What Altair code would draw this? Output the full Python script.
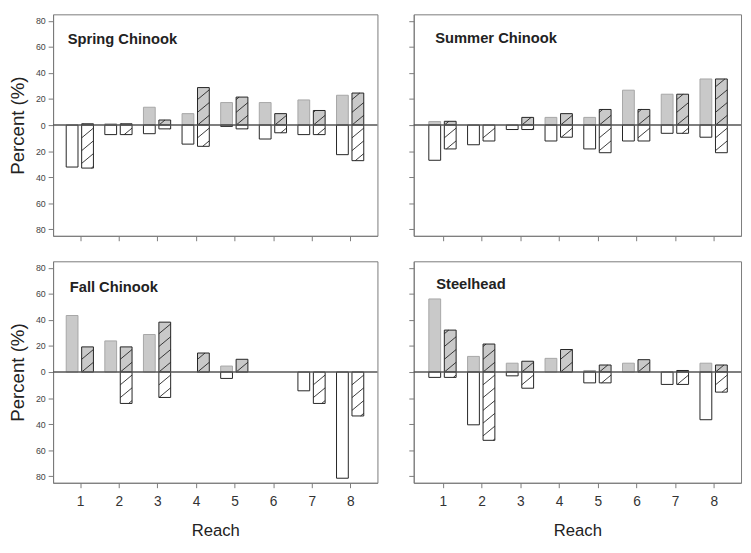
import math
import altair as alt
import pandas as pd

reaches = [1, 2, 3, 4, 5, 6, 7, 8]
panel_names = ["Spring Chinook", "Summer Chinook", "Fall Chinook", "Steelhead"]

# plain bars (left of each pair): positive (gray) and negative (white) parts
spring_pos_l = [0, 1, 13.7, 8.8, 17.3, 17.3, 19.3, 22.9]
spring_neg_l = [32.2, 7.3, 6.6, 14.6, 1, 10.7, 7.3, 22.7]
# hatched bars (right of each pair)
spring_pos_r = [1, 1, 3.9, 28.8, 21.5, 8.8, 11.2, 24.6]
spring_neg_r = [33, 7.3, 2.9, 16.3, 2.9, 5.9, 7.3, 27.3]

summer_pos_l = [2.7, 0, 0, 5.9, 5.9, 26.8, 23.7, 35.4]
summer_neg_l = [27, 15.1, 3.4, 12.2, 18.3, 12.2, 6.3, 9.3]
summer_pos_r = [2.9, 0, 5.9, 8.8, 12, 12, 23.7, 35.4]
summer_neg_r = [18.3, 12.2, 3.4, 9.3, 21.2, 12.2, 6.3, 21.2]

fall_pos_l = [43.4, 23.9, 28.8, 0, 4.6, 0, 0, 0]
fall_neg_l = [0, 0, 0, 0, 4.9, 0, 14.4, 81.5]
fall_pos_r = [19.3, 19.3, 38.3, 14.6, 9.8, 0, 0, 0]
fall_neg_r = [0, 24.1, 19.5, 0, 0, 0, 24.1, 33.7]

steel_pos_l = [56.1, 12, 6.8, 10.5, 1.2, 6.8, 0, 6.8]
steel_neg_l = [4.1, 40.5, 2.9, 0, 8.3, 0, 9.5, 36.6]
steel_pos_r = [32.2, 21.5, 8.3, 17.3, 5.4, 9.5, 1.2, 5.4]
steel_neg_r = [4.1, 52.4, 12.4, 0, 8.3, 0, 9.5, 15.4]

y_ticks = [-80, -60, -40, -20, 0, 20, 40, 60, 80]

OFF_L = (-0.36, -0.055)
OFF_R = (0.04, 0.345)
HATCH_SPACING = 9.8
HATCH_RISE = 7.5

FONT = "Liberation Sans"
FRAME = "#7a7a7a"


def bar_rows(pos_l, neg_l, pos_r, neg_r):
    rows = []
    for i, r in enumerate(reaches):
        for side, pos, neg, (a, b) in (("L", pos_l[i], neg_l[i], OFF_L),
                                       ("R", pos_r[i], neg_r[i], OFF_R)):
            if pos > 0:
                rows.append(dict(reach=r, kind=side + "pos", xl=r + a, xr=r + b, lo=0.0, hi=pos))
            if neg > 0:
                rows.append(dict(reach=r, kind=side + "neg", xl=r + a, xr=r + b, lo=-neg, hi=0.0))
    return pd.DataFrame(rows)


def hatch_rows(bars):
    out = []
    for _, b in bars[bars.kind.str.startswith("R")].iterrows():
        a, top = b.lo, b.hi
        k0 = math.floor((a - HATCH_RISE) / HATCH_SPACING)
        k1 = math.ceil(top / HATCH_SPACING)
        for k in range(k0, k1 + 1):
            y0 = k * HATCH_SPACING
            t0 = max(0.0, (a - y0) / HATCH_RISE)
            t1 = min(1.0, (top - y0) / HATCH_RISE)
            if t1 - t0 > 0.02:
                w = b.xr - b.xl
                out.append(dict(xl=b.xl + t0 * w, lo=y0 + HATCH_RISE * t0,
                                xr=b.xl + t1 * w, hi=y0 + HATCH_RISE * t1))
    return pd.DataFrame(out)


def panel(name, arrays, left, bottom, title_xy, xdomain, width):
    bars = bar_rows(*arrays)
    hatch = hatch_rows(bars)
    xscale = alt.Scale(domain=xdomain, nice=False, zero=False)
    yscale = alt.Scale(domain=[-85, 85], nice=False)
    xaxis = alt.Axis(values=reaches, format="d", grid=False, labels=bottom,
                     title="Reach" if bottom else "", labelFontSize=14,
                     labelColor="#333", labelPadding=7, titleFontSize=17,
                     titleFontWeight="normal", titleColor="#222", titlePadding=15,
                     tickSize=5, tickColor=FRAME, domainColor=FRAME, labelFont=FONT,
                     titleFont=FONT)
    yaxis = alt.Axis(values=y_ticks, labelExpr="abs(datum.value)", grid=False,
                     labels=left, title="Percent (%)" if left else "",
                     labelFontSize=9, labelColor="#444", labelPadding=3,
                     titleFontSize=19, titleFontWeight="normal", titleColor="#222",
                     titlePadding=8, tickSize=5, tickColor=FRAME, domainColor=FRAME,
                     labelFont=FONT, titleFont=FONT)
    X = alt.X("xl:Q", scale=xscale, axis=xaxis)
    Y = alt.Y("lo:Q", scale=yscale, axis=yaxis)
    kinds = ["Lpos", "Lneg", "Rpos", "Rneg"]
    base = alt.Chart(bars).mark_bar(strokeWidth=1).encode(
        x=X, x2="xr:Q", y=Y, y2="hi:Q",
        fill=alt.Fill("kind:N", scale=alt.Scale(domain=kinds,
                      range=["#c9c9c9", "#ffffff", "#c9c9c9", "#ffffff"]), legend=None),
        stroke=alt.Stroke("kind:N", scale=alt.Scale(domain=kinds,
                          range=["#a6a6a6", "#222222", "#222222", "#222222"]), legend=None),
    )
    lines = alt.Chart(hatch).mark_rule(color="#222", strokeWidth=0.9).encode(
        x=X, x2="xr:Q", y=Y, y2="hi:Q",
    )
    zero = alt.Chart(pd.DataFrame({"lo": [0]})).mark_rule(color="#555", strokeWidth=1.6).encode(
        y=Y
    )
    label = alt.Chart(pd.DataFrame({"t": [name]})).mark_text(
        font=FONT, fontSize=15, fontWeight="bold", color="#222", align="left", baseline="alphabetic"
    ).encode(text="t:N", x=alt.value(title_xy[0]), y=alt.value(title_xy[1]))
    return alt.layer(base, lines, zero, label).properties(width=width, height=226)


p1 = panel(panel_names[0], (spring_pos_l, spring_neg_l, spring_pos_r, spring_neg_r),
           True, False, (15, 30), [0.3, 8.7], 331)
p2 = panel(panel_names[1], (summer_pos_l, summer_neg_l, summer_pos_r, summer_neg_r),
           False, False, (22, 29), [0.25, 8.7], 334)
p3 = panel(panel_names[2], (fall_pos_l, fall_neg_l, fall_pos_r, fall_neg_r),
           True, True, (17, 31), [0.3, 8.7], 331)
p4 = panel(panel_names[3], (steel_pos_l, steel_neg_l, steel_pos_r, steel_neg_r),
           False, True, (23, 28), [0.25, 8.7], 334)

chart = alt.vconcat(
    alt.hconcat(p1, p2, spacing=29),
    alt.hconcat(p3, p4, spacing=29),
    spacing=19,
).properties(padding=0).configure(font=FONT).configure_view(
    stroke=FRAME, strokeWidth=1
)

chart.save("out.html", embed_options={"renderer": "svg", "actions": False})
